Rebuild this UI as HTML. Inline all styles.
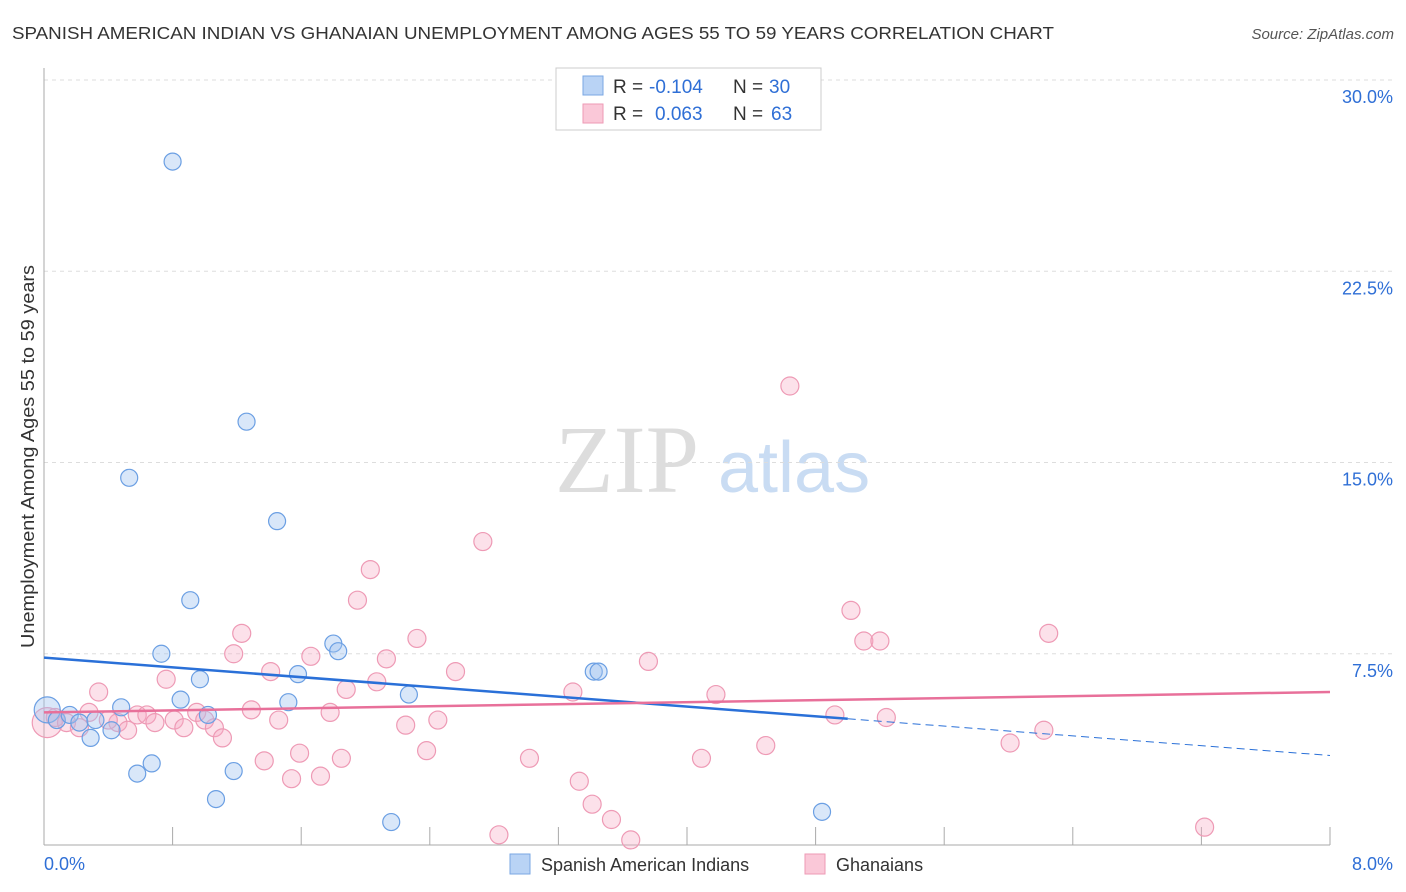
<!DOCTYPE html>
<html><head><meta charset="utf-8"><style>
body{margin:0;background:#fff;font-family:"Liberation Sans",sans-serif;}
#wrap{position:relative;width:1406px;height:892px;overflow:hidden;}
</style></head><body>
<div id="wrap">
<svg id="svg" width="1406" height="892" xmlns="http://www.w3.org/2000/svg">
<text x="12" y="39" font-size="17.5" fill="#333" textLength="1042" lengthAdjust="spacingAndGlyphs">SPANISH AMERICAN INDIAN VS GHANAIAN UNEMPLOYMENT AMONG AGES 55 TO 59 YEARS CORRELATION CHART</text>
<text x="1394" y="39" font-size="15" fill="#555" text-anchor="end" font-style="italic">Source: ZipAtlas.com</text>
<text x="555" y="492" font-size="96" fill="#ddd" font-family="Liberation Serif,serif">ZIP</text>
<text x="718" y="492" font-size="72" fill="#c9dcf3">atlas</text>
<text transform="translate(34,648) rotate(-90)" font-size="18" fill="#333" textLength="383" lengthAdjust="spacingAndGlyphs">Unemployment Among Ages 55 to 59 years</text>
<g id="grid"></g><g id="pts"></g><g id="lines"></g>
<g>
<rect x="556" y="68" width="265" height="62" fill="#fff" stroke="#ccc"/>
<rect x="583" y="76" width="20" height="19" fill="#b9d3f5" stroke="#7aa7e3"/>
<rect x="583" y="104" width="20" height="19" fill="#fac8d8" stroke="#ee9ab5"/>
<text x="613" y="93" font-size="19" fill="#333">R =</text>
<text x="649" y="93" font-size="19" fill="#2f6fd6">-0.104</text>
<text x="733" y="93" font-size="19" fill="#333">N =</text>
<text x="769" y="93" font-size="19" fill="#2f6fd6">30</text>
<text x="613" y="120" font-size="19" fill="#333">R =</text>
<text x="655" y="120" font-size="19" fill="#2f6fd6">0.063</text>
<text x="733" y="120" font-size="19" fill="#333">N =</text>
<text x="771" y="120" font-size="19" fill="#2f6fd6">63</text>
</g>
<g>
<rect x="510" y="854" width="20" height="20" fill="#b9d3f5" stroke="#7aa7e3"/>
<text x="541" y="871" font-size="18" fill="#333">Spanish American Indians</text>
<rect x="805" y="854" width="20" height="20" fill="#fac8d8" stroke="#ee9ab5"/>
<text x="836" y="871" font-size="18" fill="#333">Ghanaians</text>
</g>
</svg>
<script>
const xTicks=[0,0.8,1.6,2.4,3.2,4.0,4.8,5.6,6.4,7.2,8.0];
const yTicks=[7.5,15,22.5,30];
const yTickLabels=["7.5%","15.0%","22.5%","30.0%"];
const blueX=[0.02,0.08,0.16,0.22,0.29,0.32,0.42,0.48,0.53,0.58,0.67,0.73,0.80,0.85,0.97,1.02,1.07,1.18,1.26,1.45,1.52,1.58,1.80,1.83,2.16,2.27,0.91,3.42,3.45,4.84];
const blueY=[5.3,4.9,5.1,4.8,4.2,4.9,4.5,5.4,14.4,2.8,3.2,7.5,26.8,5.7,6.5,5.1,1.8,2.9,16.6,12.7,5.6,6.7,7.9,7.6,0.9,5.9,9.6,6.8,6.8,1.3];
const pinkX=[0.02,0.07,0.14,0.22,0.34,0.28,0.46,0.52,0.58,0.64,0.69,0.76,0.81,0.87,0.95,1.00,1.06,1.11,1.18,1.23,1.29,1.37,1.41,1.46,1.54,1.59,1.66,1.72,1.78,1.85,1.88,1.95,2.03,2.07,2.13,2.25,2.32,2.38,2.45,2.56,2.73,2.83,3.02,3.29,3.33,3.41,3.53,3.65,3.76,4.09,4.18,4.49,4.64,4.92,5.02,5.10,5.20,5.24,6.01,6.22,6.25,7.22,0.40];
const pinkY=[4.8,5.0,4.8,4.6,6.0,5.2,4.8,4.5,5.1,5.1,4.8,6.5,4.9,4.6,5.2,4.9,4.6,4.2,7.5,8.3,5.3,3.3,6.8,4.9,2.6,3.6,7.4,2.7,5.2,3.4,6.1,9.6,10.8,6.4,7.3,4.7,8.1,3.7,4.9,6.8,11.9,0.4,3.4,6.0,2.5,1.6,1.0,0.2,7.2,3.4,5.9,3.9,18.0,5.1,9.2,8.0,8.0,5.0,4.0,4.5,8.3,0.7,4.9];
const pinkR=[15];const blueR=[13];
const NS="http://www.w3.org/2000/svg";
const X0=44,X1=1330,Y0=845,YT=80;
const sx=v=>X0+v/8*(X1-X0), sy=v=>Y0-v/30*(Y0-YT);
function mk(t,a,p){const e=document.createElementNS(NS,t);for(const k in a)e.setAttribute(k,a[k]);p.appendChild(e);return e;}
const grid=document.getElementById('grid');
yTicks.forEach((v,i)=>{
 const l=mk('line',{x1:X0,x2:1394,y1:sy(v),y2:sy(v),stroke:'#ddd','stroke-dasharray':'4,4'},grid);
 
 
 const t=mk('text',{x:1393,y:sy(v)+23,'font-size':18,fill:'#2f6fd6','text-anchor':'end'},grid);t.textContent=yTickLabels[i];
 
 
});
const ax=mk('line',{x1:X0,x2:X0,y1:68,y2:Y0,stroke:'#aaa'},grid);


const bx=mk('line',{x1:X0,x2:X1,y1:Y0,y2:Y0,stroke:'#aaa'},grid);


xTicks.forEach(v=>{const l=mk('line',{x1:sx(v),x2:sx(v),y1:Y0,y2:Y0-18,stroke:'#aaa'},grid);
 
 });
[[0,"0.0%",'start',44],[8,"8.0%",'end',1393]].forEach(a=>{const t=mk('text',{x:a[3],y:870,'font-size':18,fill:'#2f6fd6','text-anchor':a[2]},grid);t.textContent=a[1];
 
 });
const pts=document.getElementById('pts');
pinkX.forEach((x,i)=>{const c=mk('circle',{cx:sx(x),cy:sy(pinkY[i]),r:i==0?pinkR[0]:9,fill:'rgba(245,170,195,0.35)',stroke:'#ee9ab5','stroke-width':1.2},pts);
 
 });
blueX.forEach((x,i)=>{const c=mk('circle',{cx:sx(x),cy:sy(blueY[i]),r:i==0?blueR[0]:8.5,fill:'rgba(160,195,240,0.4)',stroke:'#6b9fe3','stroke-width':1.2},pts);
 
 });
const lines=document.getElementById('lines');
const bA=7.35,bB=-0.48,pA=5.2,pB=0.1;
let l=mk('line',{x1:sx(0),y1:sy(bA),x2:sx(5.0),y2:sy(bA+bB*5.0),stroke:'#2a70d8','stroke-width':2.5},lines);


l=mk('line',{x1:sx(5.0),y1:sy(bA+bB*5.0),x2:sx(8),y2:sy(bA+bB*8),stroke:'#2a70d8','stroke-width':1,'stroke-dasharray':'8,5'},lines);


l=mk('line',{x1:sx(0),y1:sy(pA),x2:sx(8),y2:sy(pA+pB*8),stroke:'#e8709a','stroke-width':2.5},lines);


</script>
</div>
</body></html>
